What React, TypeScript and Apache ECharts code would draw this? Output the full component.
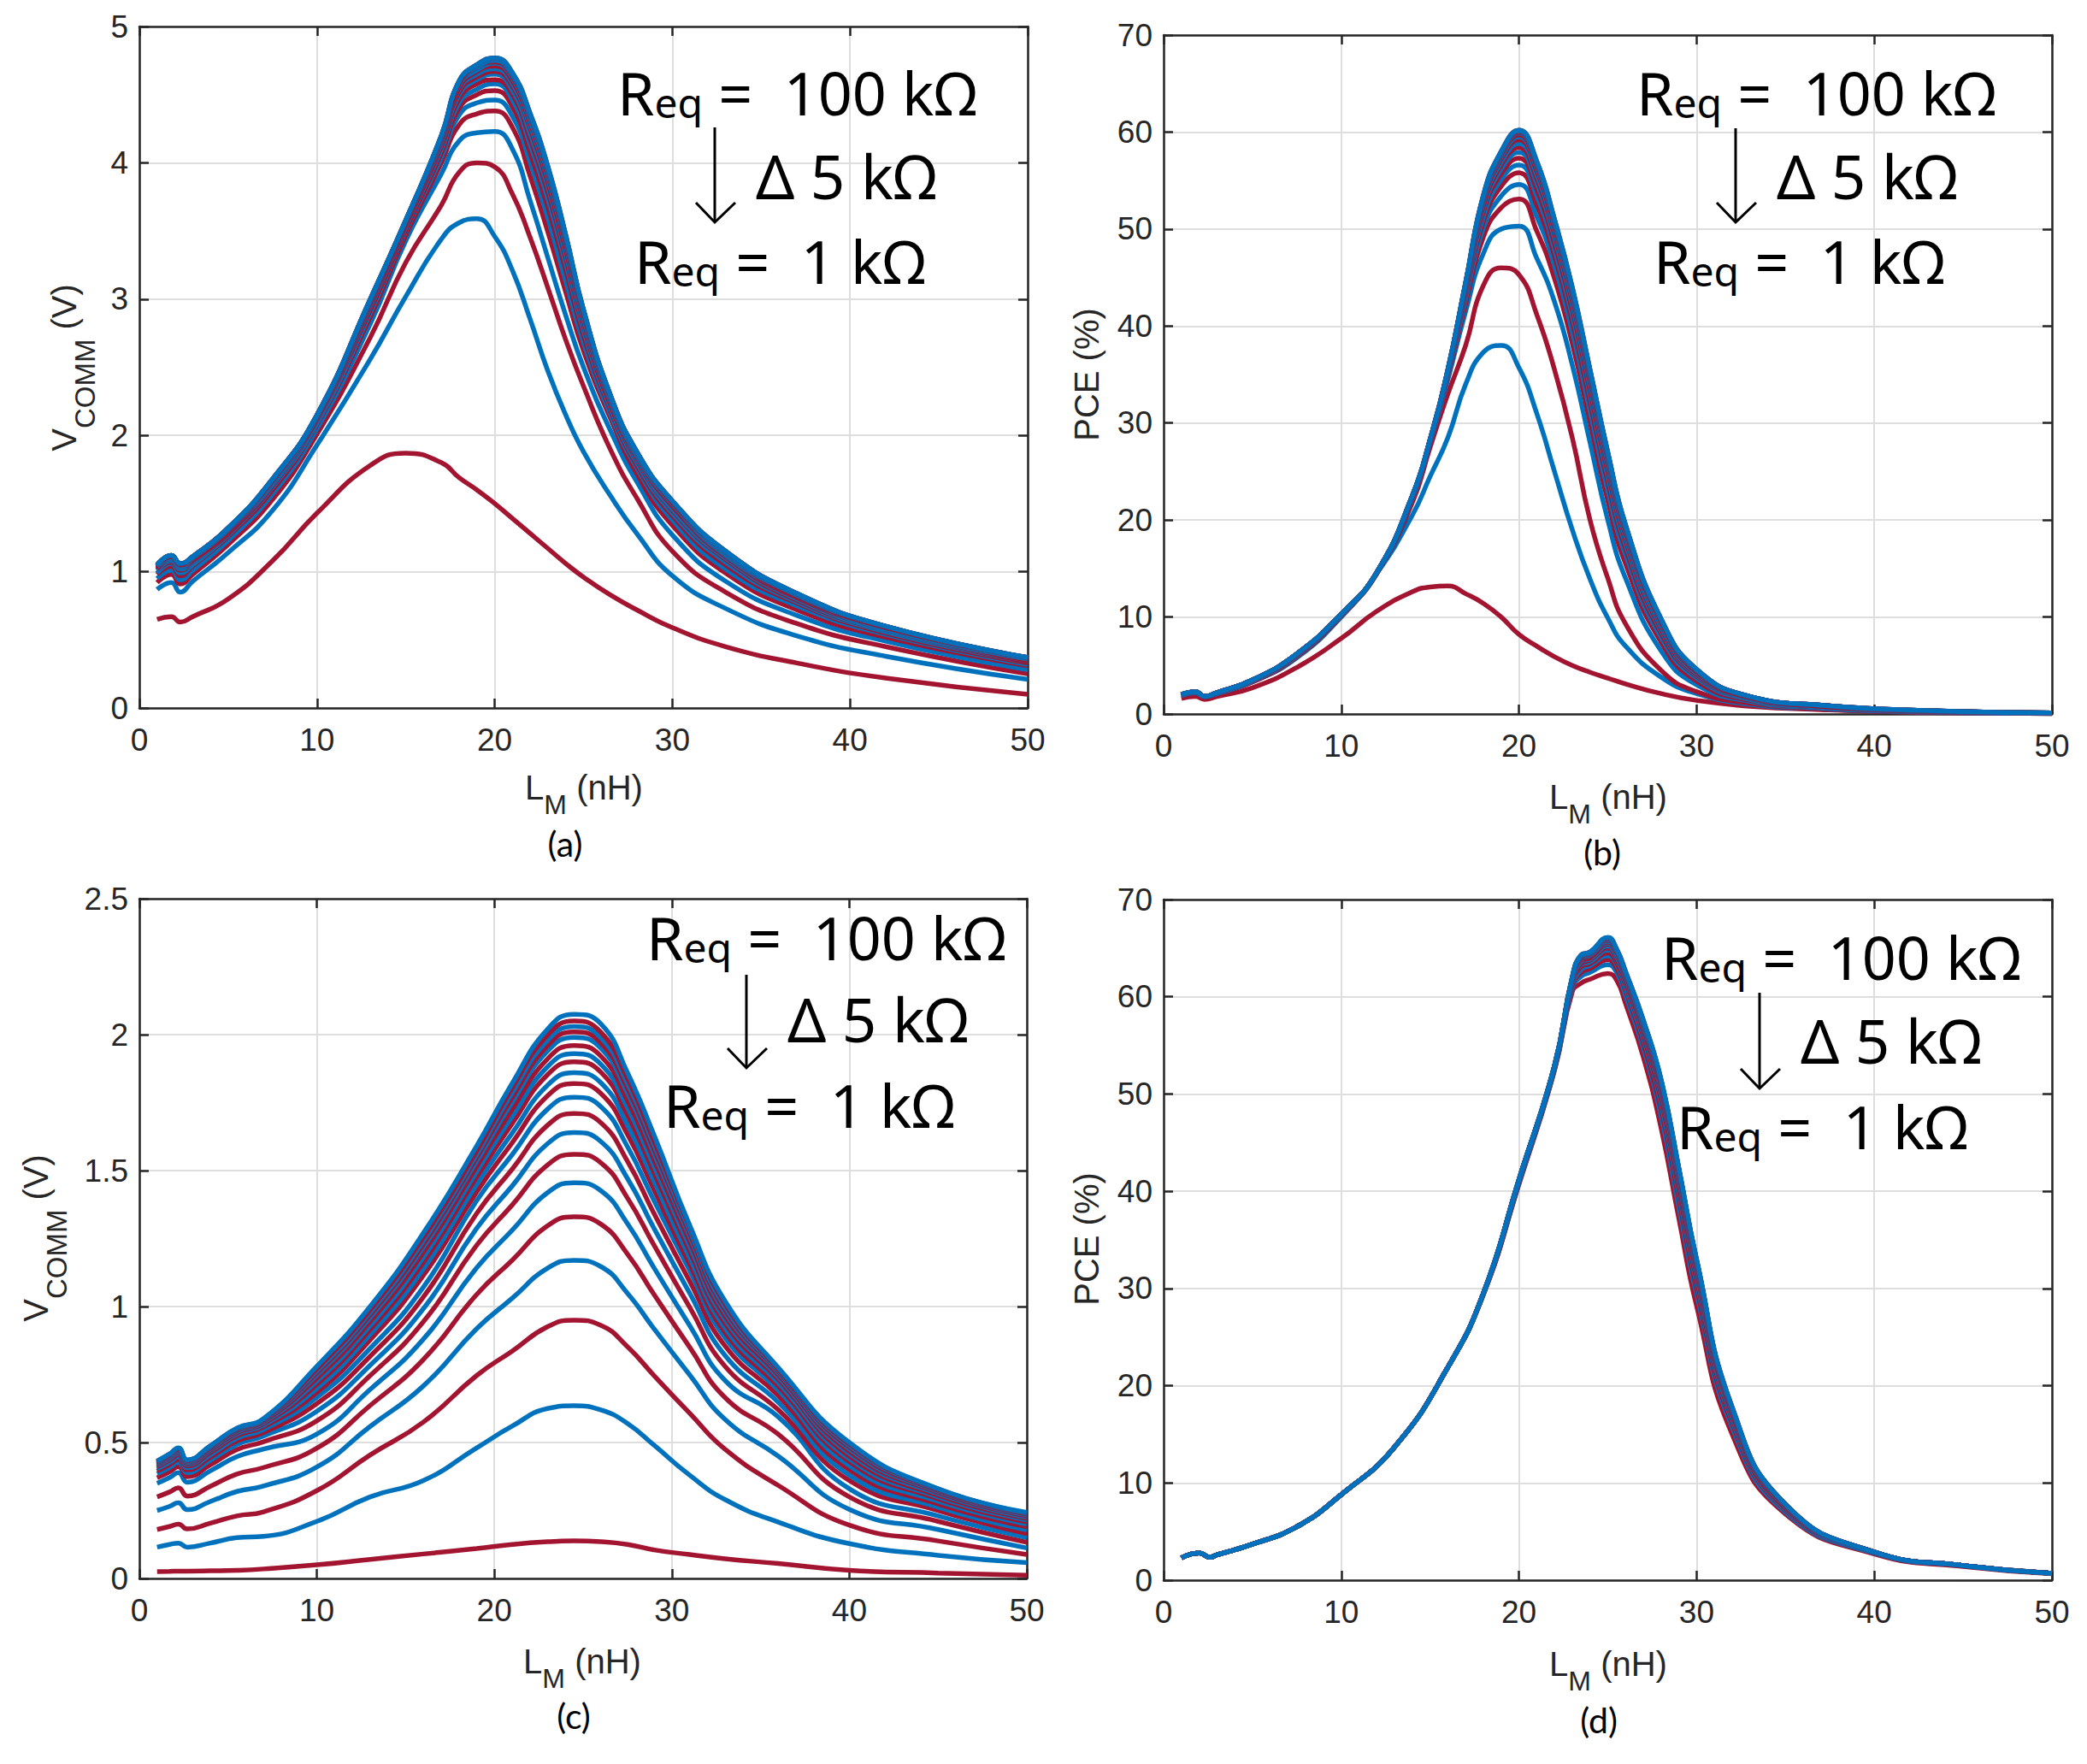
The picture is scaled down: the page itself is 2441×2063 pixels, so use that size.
import React, { useEffect, useRef } from "react";
import * as echarts from "echarts";

// ---------------- data ----------------
const REQ_KOHM = [1, 10, 15, 20, 25, 30, 35, 40, 45, 50, 55, 60, 65, 70, 75, 80, 85, 90, 95, 100];

const X_A = [1, 1.8, 2.3, 3, 5, 7.5, 10, 13, 15, 17, 18, 19, 20, 21, 22, 23, 24, 25, 26.5, 28, 30, 33, 37, 42, 50];
const VCOMM_A = [
  [0.65,0.67,0.63,0.67,0.80,1.08,1.43,1.78,1.87,1.80,1.69,1.60,1.50,1.39,1.28,1.17,1.06,0.96,0.83,0.72,0.59,0.45,0.33,0.22,0.10],
  [0.87,0.92,0.85,0.93,1.14,1.45,1.93,2.56,3.02,3.44,3.56,3.59,3.46,3.21,2.85,2.47,2.15,1.88,1.56,1.28,0.97,0.73,0.53,0.38,0.21],
  [0.92,0.98,0.91,0.98,1.20,1.53,2.01,2.72,3.27,3.69,3.93,4.00,3.97,3.77,3.45,3.08,2.70,2.36,1.90,1.54,1.15,0.85,0.62,0.45,0.25],
  [0.95,1.01,0.94,1.01,1.23,1.57,2.05,2.82,3.43,3.92,4.16,4.22,4.23,4.10,3.72,3.30,2.88,2.50,2.04,1.66,1.27,0.93,0.68,0.49,0.28],
  [0.98,1.04,0.97,1.04,1.26,1.60,2.08,2.87,3.47,4.00,4.28,4.36,4.38,4.26,3.90,3.49,3.05,2.62,2.13,1.72,1.34,0.99,0.72,0.52,0.31],
  [0.99,1.06,0.99,1.05,1.27,1.62,2.09,2.90,3.50,4.04,4.35,4.44,4.46,4.34,4.00,3.59,3.13,2.68,2.16,1.76,1.38,1.02,0.75,0.54,0.32],
  [1.01,1.07,1.01,1.07,1.28,1.63,2.11,2.92,3.51,4.07,4.40,4.50,4.53,4.41,4.07,3.67,3.21,2.73,2.19,1.78,1.41,1.05,0.77,0.55,0.33],
  [1.01,1.08,1.02,1.07,1.29,1.64,2.11,2.94,3.53,4.10,4.44,4.54,4.58,4.46,4.13,3.73,3.26,2.77,2.21,1.80,1.43,1.07,0.78,0.56,0.34],
  [1.02,1.09,1.03,1.08,1.29,1.65,2.12,2.95,3.54,4.12,4.47,4.58,4.61,4.50,4.17,3.78,3.30,2.80,2.23,1.82,1.45,1.09,0.79,0.57,0.34],
  [1.03,1.09,1.03,1.09,1.30,1.65,2.13,2.96,3.55,4.14,4.50,4.61,4.65,4.53,4.21,3.82,3.33,2.82,2.25,1.83,1.46,1.10,0.80,0.57,0.35],
  [1.03,1.10,1.04,1.09,1.30,1.66,2.13,2.97,3.55,4.15,4.52,4.63,4.67,4.56,4.25,3.85,3.36,2.84,2.26,1.84,1.48,1.11,0.81,0.58,0.35],
  [1.04,1.10,1.04,1.10,1.31,1.66,2.14,2.98,3.56,4.16,4.54,4.65,4.69,4.58,4.27,3.88,3.39,2.86,2.27,1.85,1.49,1.12,0.82,0.58,0.36],
  [1.04,1.11,1.05,1.10,1.31,1.67,2.14,2.98,3.56,4.17,4.55,4.67,4.71,4.60,4.29,3.90,3.41,2.88,2.28,1.86,1.49,1.13,0.82,0.59,0.36],
  [1.04,1.11,1.05,1.10,1.31,1.67,2.14,2.99,3.57,4.18,4.57,4.68,4.73,4.62,4.31,3.92,3.43,2.89,2.28,1.86,1.50,1.13,0.83,0.59,0.36],
  [1.05,1.11,1.05,1.11,1.32,1.67,2.15,2.99,3.57,4.19,4.58,4.70,4.74,4.63,4.33,3.94,3.44,2.90,2.29,1.87,1.51,1.14,0.83,0.59,0.37],
  [1.05,1.12,1.06,1.11,1.32,1.68,2.15,2.99,3.58,4.19,4.59,4.70,4.75,4.64,4.34,3.95,3.45,2.91,2.29,1.87,1.51,1.14,0.83,0.60,0.37],
  [1.05,1.12,1.06,1.11,1.32,1.68,2.15,3.00,3.58,4.19,4.59,4.71,4.76,4.65,4.35,3.96,3.46,2.91,2.30,1.88,1.51,1.15,0.84,0.60,0.37],
  [1.05,1.12,1.06,1.11,1.32,1.68,2.15,3.00,3.58,4.20,4.60,4.71,4.76,4.65,4.35,3.96,3.46,2.92,2.30,1.88,1.52,1.15,0.84,0.60,0.37],
  [1.05,1.12,1.06,1.11,1.32,1.68,2.15,3.00,3.58,4.20,4.60,4.72,4.77,4.66,4.36,3.97,3.47,2.92,2.30,1.88,1.52,1.15,0.84,0.60,0.37],
  [1.05,1.12,1.06,1.11,1.32,1.68,2.15,3.00,3.58,4.20,4.60,4.72,4.77,4.66,4.36,3.97,3.47,2.92,2.30,1.88,1.52,1.15,0.84,0.60,0.37],
];

const X_B = [1, 1.8, 2.3, 3, 5, 7.5, 10, 12, 14, 15, 16, 17, 18, 19, 20, 21, 22, 23, 24, 25, 26, 28, 30, 33, 37, 42, 50];
const PCE_B = [
  [1.6,1.8,1.5,1.8,2.7,4.8,7.8,10.6,12.6,13.1,13.2,12.4,11.4,10.0,8.2,7.0,5.9,5.0,4.3,3.7,3.1,2.1,1.4,0.8,0.45,0.2,0.05],
  [1.9,2.2,1.8,2.1,3.3,5.8,10.0,14.5,20.5,24.5,28.5,34.0,37.3,38.0,35.7,31.0,25.0,19.0,13.9,9.9,7.0,3.8,2.1,1.0,0.5,0.2,0.05],
  [1.9,2.2,1.8,2.1,3.3,5.9,10.1,14.5,21.8,27.5,33.0,38.0,44.2,46.0,45.3,41.2,35.5,28.5,20.0,14.0,9.3,4.5,2.3,1.1,0.5,0.2,0.05],
  [1.9,2.2,1.8,2.1,3.4,6.0,10.2,14.5,22.2,28.0,34.5,41.5,47.5,50.0,50.3,47.0,42.5,36.0,28.0,20.0,14.0,6.5,3.0,1.3,0.6,0.25,0.07],
  [1.9,2.2,1.8,2.1,3.4,6.1,10.2,14.5,22.3,28.1,34.8,42.3,49.2,52.2,53.1,49.8,44.9,38.2,30.1,22.0,15.5,7.4,3.4,1.4,0.7,0.29,0.08],
  [1.9,2.2,1.8,2.1,3.4,6.1,10.2,14.5,22.3,28.1,34.9,42.8,50.1,53.4,54.6,51.3,46.2,39.4,31.2,23.0,16.4,7.9,3.7,1.5,0.7,0.31,0.08],
  [2.0,2.3,1.8,2.2,3.5,6.1,10.3,14.6,22.4,28.2,35.1,43.2,50.8,54.4,55.8,52.5,47.2,40.4,32.1,23.9,17.0,8.3,3.9,1.6,0.8,0.33,0.09],
  [2.0,2.3,1.8,2.2,3.5,6.1,10.3,14.6,22.4,28.2,35.1,43.4,51.3,55.1,56.6,53.4,47.9,41.1,32.8,24.5,17.5,8.6,4.0,1.6,0.8,0.35,0.09],
  [2.0,2.3,1.8,2.2,3.5,6.1,10.3,14.6,22.4,28.2,35.2,43.6,51.8,55.7,57.3,54.1,48.5,41.7,33.3,25.0,17.9,8.8,4.1,1.7,0.8,0.36,0.09],
  [2.0,2.3,1.8,2.2,3.5,6.2,10.3,14.6,22.4,28.2,35.3,43.8,52.1,56.2,57.9,54.7,49.1,42.2,33.8,25.4,18.2,9.0,4.2,1.7,0.8,0.37,0.09],
  [2.0,2.3,1.8,2.2,3.5,6.2,10.3,14.6,22.4,28.2,35.3,44.0,52.4,56.6,58.4,55.2,49.5,42.6,34.2,25.7,18.5,9.2,4.3,1.7,0.8,0.37,0.1],
  [2.0,2.3,1.8,2.2,3.5,6.2,10.3,14.6,22.5,28.3,35.4,44.1,52.7,56.9,58.8,55.6,49.8,42.9,34.5,26.0,18.7,9.3,4.4,1.7,0.9,0.38,0.1],
  [2.0,2.3,1.8,2.2,3.5,6.2,10.3,14.6,22.5,28.3,35.4,44.2,52.9,57.2,59.2,56.0,50.1,43.2,34.7,26.3,18.9,9.5,4.4,1.7,0.9,0.38,0.1],
  [2.0,2.3,1.8,2.2,3.5,6.2,10.3,14.6,22.5,28.3,35.4,44.3,53.1,57.4,59.5,56.3,50.4,43.4,34.9,26.5,19.1,9.6,4.5,1.8,0.9,0.39,0.1],
  [2.0,2.3,1.8,2.2,3.5,6.2,10.3,14.6,22.5,28.3,35.5,44.4,53.2,57.6,59.7,56.5,50.6,43.6,35.1,26.7,19.2,9.6,4.5,1.8,0.9,0.39,0.1],
  [2.0,2.3,1.8,2.2,3.5,6.2,10.3,14.6,22.5,28.3,35.5,44.4,53.3,57.7,59.9,56.7,50.7,43.7,35.2,26.8,19.3,9.7,4.5,1.8,0.9,0.39,0.1],
  [2.0,2.3,1.8,2.2,3.5,6.2,10.3,14.6,22.5,28.3,35.5,44.4,53.4,57.8,60.0,56.8,50.8,43.8,35.3,26.9,19.4,9.7,4.6,1.8,0.9,0.4,0.1],
  [2.0,2.3,1.8,2.2,3.5,6.2,10.3,14.6,22.5,28.3,35.5,44.5,53.4,57.9,60.1,56.9,50.9,43.9,35.4,26.9,19.4,9.8,4.6,1.8,0.9,0.4,0.1],
  [2.0,2.3,1.8,2.2,3.5,6.2,10.3,14.6,22.5,28.3,35.5,44.5,53.5,58.0,60.2,57.0,51.0,44.0,35.5,27.0,19.5,9.8,4.6,1.8,0.9,0.4,0.1],
  [2.0,2.3,1.8,2.2,3.5,6.2,10.3,14.6,22.5,28.3,35.5,44.5,53.5,58.0,60.2,57.0,51.0,44.0,35.5,27.0,19.5,9.8,4.6,1.8,0.9,0.4,0.1],
];

const X_C = [1, 1.7, 2.2, 2.7, 4, 5.5, 7, 10, 13, 16, 19, 21, 23, 24.5, 26, 27.5, 29, 31, 33, 36, 40, 45, 50];
const VCOMM_C = [
  [0.025,0.026,0.027,0.027,0.028,0.03,0.035,0.05,0.07,0.09,0.11,0.125,0.135,0.138,0.135,0.125,0.105,0.088,0.072,0.055,0.03,0.02,0.012],
  [0.115,0.125,0.13,0.115,0.13,0.15,0.155,0.21,0.30,0.36,0.48,0.56,0.625,0.635,0.62,0.57,0.49,0.38,0.29,0.207,0.128,0.085,0.058],
  [0.18,0.191,0.20,0.182,0.203,0.23,0.245,0.323,0.454,0.575,0.746,0.836,0.926,0.95,0.931,0.852,0.746,0.608,0.475,0.342,0.196,0.138,0.088],
  [0.25,0.265,0.278,0.253,0.283,0.32,0.34,0.41,0.559,0.708,0.918,1.03,1.141,1.17,1.147,1.049,0.918,0.749,0.585,0.45,0.254,0.18,0.112],
  [0.30,0.318,0.333,0.303,0.339,0.384,0.408,0.479,0.636,0.805,1.044,1.17,1.297,1.33,1.303,1.193,1.044,0.851,0.665,0.53,0.30,0.21,0.133],
  [0.35,0.371,0.389,0.354,0.396,0.448,0.476,0.531,0.695,0.88,1.142,1.28,1.419,1.455,1.426,1.305,1.142,0.931,0.728,0.594,0.33,0.23,0.15],
  [0.37,0.392,0.411,0.374,0.418,0.474,0.503,0.58,0.746,0.944,1.225,1.373,1.521,1.56,1.529,1.399,1.225,0.998,0.78,0.62,0.36,0.25,0.165],
  [0.385,0.408,0.427,0.389,0.435,0.493,0.524,0.615,0.784,0.992,1.287,1.443,1.599,1.64,1.607,1.471,1.287,1.05,0.82,0.648,0.38,0.262,0.178],
  [0.395,0.419,0.438,0.399,0.446,0.506,0.537,0.643,0.817,1.035,1.342,1.505,1.667,1.71,1.676,1.534,1.342,1.094,0.855,0.672,0.40,0.274,0.19],
  [0.403,0.427,0.447,0.407,0.455,0.516,0.548,0.666,0.846,1.071,1.389,1.558,1.726,1.77,1.735,1.588,1.389,1.133,0.885,0.692,0.415,0.284,0.20],
  [0.41,0.435,0.455,0.414,0.463,0.525,0.558,0.684,0.877,1.114,1.421,1.602,1.775,1.82,1.784,1.633,1.429,1.156,0.905,0.707,0.43,0.293,0.208],
  [0.415,0.44,0.461,0.419,0.469,0.531,0.564,0.699,0.897,1.138,1.449,1.637,1.814,1.86,1.823,1.668,1.46,1.18,0.921,0.72,0.44,0.30,0.215],
  [0.419,0.444,0.465,0.423,0.473,0.536,0.57,0.714,0.916,1.163,1.476,1.672,1.853,1.90,1.862,1.704,1.492,1.204,0.938,0.732,0.45,0.306,0.221],
  [0.422,0.447,0.468,0.426,0.477,0.54,0.574,0.726,0.93,1.181,1.496,1.698,1.882,1.93,1.891,1.731,1.515,1.222,0.952,0.741,0.46,0.312,0.226],
  [0.425,0.451,0.472,0.429,0.48,0.544,0.578,0.737,0.945,1.20,1.515,1.725,1.911,1.96,1.921,1.758,1.539,1.24,0.965,0.749,0.468,0.317,0.23],
  [0.427,0.453,0.474,0.431,0.483,0.547,0.581,0.748,0.959,1.218,1.534,1.751,1.94,1.99,1.95,1.785,1.562,1.258,0.978,0.757,0.476,0.321,0.234],
  [0.429,0.455,0.476,0.433,0.485,0.549,0.583,0.756,0.969,1.23,1.548,1.769,1.96,2.01,1.97,1.803,1.578,1.27,0.988,0.762,0.483,0.324,0.237],
  [0.43,0.456,0.477,0.434,0.486,0.55,0.585,0.763,0.978,1.242,1.559,1.786,1.979,2.03,1.989,1.821,1.594,1.282,0.998,0.766,0.489,0.327,0.239],
  [0.431,0.457,0.478,0.435,0.487,0.552,0.586,0.771,0.988,1.255,1.572,1.804,1.999,2.05,2.009,1.839,1.609,1.294,1.01,0.77,0.495,0.329,0.241],
  [0.432,0.458,0.48,0.436,0.488,0.553,0.588,0.78,1.0,1.27,1.59,1.82,2.02,2.075,2.04,1.86,1.63,1.30,1.02,0.775,0.50,0.33,0.243],
];

const X_D = [1, 2, 2.6, 3, 5, 7.5, 10, 13, 16, 18, 20, 22, 23, 23.5, 24, 25, 25.5, 26, 27, 28, 29, 30, 32, 35, 40, 45, 50];
const PCE_D = [
  [2.3,2.8,2.35,2.6,3.7,5.5,8.8,13.7,21.9,29.4,40.7,52.4,60.5,61.4,61.8,62.4,61.7,59.3,53.8,46.5,37.2,28.2,15.0,6.8,2.7,1.4,0.65],
  [2.3,2.8,2.35,2.6,3.7,5.5,8.8,13.7,21.9,29.4,40.8,52.5,60.9,62.1,62.5,63.3,62.5,60.1,54.7,47.7,38.4,29.4,15.7,7.0,2.8,1.5,0.7],
  [2.3,2.8,2.35,2.6,3.7,5.5,8.8,13.7,21.9,29.4,40.9,52.6,61.1,62.5,62.9,63.8,62.9,60.6,55.2,48.4,39.2,30.0,16.1,7.2,2.8,1.5,0.7],
  [2.3,2.8,2.35,2.6,3.7,5.5,8.8,13.7,21.9,29.5,40.9,52.6,61.2,62.8,63.2,64.2,63.3,60.9,55.7,49.0,39.8,30.6,16.4,7.3,2.8,1.5,0.7],
  [2.3,2.8,2.35,2.6,3.7,5.5,8.8,13.7,21.9,29.5,41.0,52.7,61.4,63.1,63.4,64.5,63.5,61.2,56.0,49.4,40.2,30.9,16.6,7.4,2.8,1.5,0.7],
  [2.3,2.8,2.35,2.6,3.7,5.5,8.8,13.7,21.9,29.5,41.0,52.7,61.5,63.3,63.6,64.8,63.8,61.4,56.3,49.8,40.6,31.3,16.8,7.5,2.8,1.5,0.7],
  [2.3,2.8,2.35,2.6,3.7,5.5,8.8,13.7,21.9,29.5,41.1,52.8,61.6,63.4,63.8,65.0,63.9,61.6,56.5,50.0,40.8,31.6,17.0,7.5,2.9,1.5,0.7],
  [2.3,2.8,2.35,2.6,3.7,5.5,8.8,13.7,21.9,29.5,41.1,52.8,61.6,63.6,63.9,65.2,64.1,61.8,56.7,50.3,41.2,31.9,17.1,7.6,2.9,1.5,0.7],
  [2.3,2.8,2.35,2.6,3.7,5.5,8.8,13.7,21.9,29.5,41.1,52.8,61.7,63.7,64.0,65.4,64.3,61.9,56.8,50.5,41.4,32.0,17.2,7.6,2.9,1.5,0.7],
  [2.3,2.8,2.35,2.6,3.7,5.5,8.8,13.7,21.9,29.5,41.1,52.8,61.8,63.8,64.2,65.5,64.4,62.1,57.0,50.7,41.6,32.2,17.4,7.6,2.9,1.5,0.7],
  [2.3,2.8,2.35,2.6,3.7,5.5,8.8,13.7,21.9,29.5,41.1,52.8,61.8,63.9,64.2,65.6,64.5,62.2,57.1,50.8,41.7,32.4,17.4,7.7,2.9,1.5,0.7],
  [2.3,2.8,2.35,2.6,3.7,5.5,8.8,13.7,21.9,29.5,41.1,52.8,61.8,64.0,64.3,65.7,64.5,62.2,57.2,51.0,41.8,32.5,17.5,7.7,2.9,1.5,0.7],
  [2.3,2.8,2.35,2.6,3.7,5.5,8.8,13.7,21.9,29.5,41.2,52.9,61.9,64.1,64.4,65.8,64.6,62.3,57.3,51.1,42.0,32.6,17.6,7.7,2.9,1.5,0.7],
  [2.3,2.8,2.35,2.6,3.7,5.5,8.8,13.7,21.9,29.5,41.2,52.9,61.9,64.1,64.4,65.85,64.7,62.4,57.3,51.2,42.1,32.7,17.6,7.7,2.9,1.5,0.7],
  [2.3,2.8,2.35,2.6,3.7,5.5,8.8,13.7,21.9,29.5,41.2,52.9,61.9,64.1,64.45,65.9,64.7,62.4,57.4,51.2,42.1,32.7,17.6,7.7,2.9,1.5,0.7],
  [2.3,2.8,2.35,2.6,3.7,5.5,8.8,13.7,21.9,29.5,41.2,52.9,62.0,64.2,64.5,65.95,64.8,62.5,57.4,51.3,42.2,32.8,17.7,7.8,2.9,1.5,0.7],
  [2.3,2.8,2.35,2.6,3.7,5.5,8.8,13.7,21.9,29.5,41.2,52.9,62.0,64.2,64.5,66.0,64.8,62.5,57.5,51.4,42.3,32.9,17.7,7.8,2.9,1.5,0.7],
  [2.3,2.8,2.35,2.6,3.7,5.5,8.8,13.7,21.9,29.5,41.2,52.9,62.0,64.2,64.5,66.03,64.8,62.5,57.5,51.4,42.3,32.9,17.7,7.8,2.9,1.5,0.7],
  [2.3,2.8,2.35,2.6,3.7,5.5,8.8,13.7,21.9,29.5,41.2,52.9,62.0,64.3,64.6,66.06,64.9,62.6,57.6,51.4,42.3,32.9,17.8,7.8,2.9,1.5,0.7],
  [2.3,2.8,2.35,2.6,3.7,5.5,8.8,13.7,21.9,29.5,41.2,52.9,62.0,64.3,64.6,66.1,64.9,62.6,57.6,51.5,42.4,33.0,17.8,7.8,2.9,1.5,0.7],
];

const X_RANGE = [0, 50, 10];
const Y_MAX = [5, 70, 2.5, 70];
const Y_STEP = [1, 10, 0.5, 10];
const CAPTIONS = ["(a)", "(b)", "(c)", "(d)"];

// ---------------- layout & style ----------------
const W = 2441;
const H = 2063;
const BLUE = "#0072BD";
const RED = "#A2142F";
const AXIS = "#262626";
const GRIDC = "#dedede";
const TICK_FONT = "'Liberation Sans', Arial, Helvetica, sans-serif";
const NOTE_FONT = "'Noto Sans', 'Open Sans', sans-serif";
const CAP_FONT = "Lato, 'Noto Sans', sans-serif";

const GRIDS = [
  { left: 163, top: 31, width: 1039, height: 797 },
  { left: 1361, top: 41, width: 1039, height: 794 },
  { left: 163, top: 1051, width: 1038, height: 795 },
  { left: 1361, top: 1052, width: 1039, height: 796 },
];

const PANELS = [
  { x: X_A, ys: VCOMM_A, ylab: "vcomm" },
  { x: X_B, ys: PCE_B, ylab: "pce" },
  { x: X_C, ys: VCOMM_C, ylab: "vcomm" },
  { x: X_D, ys: PCE_D, ylab: "pce" },
];

// label placement (page pixels)
const XLAB = [[683, 935], [1881, 946], [681, 1957], [1881, 1960]];
const YLAB = [[55, 430], [1251, 438], [22, 1448], [1251, 1449]];
const CAP = [[661, 986], [1874, 996], [671, 2006], [1870, 2011]];
const NOTE = [
  { r1: [722, 143], d: [884, 241], r2: [742, 340], ar: [836, 149, 260] },
  { r1: [1914, 143], d: [2078, 241], r2: [1934, 340], ar: [2030, 150, 260] },
  { r1: [756, 1131], d: [921, 1227], r2: [776, 1327], ar: [873, 1140, 1249] },
  { r1: [1943, 1154], d: [2106, 1252], r2: [1961, 1352], ar: [2058, 1161, 1273] },
];

function noteRich() {
  const base = { fontFamily: NOTE_FONT, fill: "#000", color: "#000", verticalAlign: "bottom" };
  return {
    r: { ...base, fontSize: 70 },
    e: { ...base, fontSize: 48 },
    t: { ...base, fontSize: 70 },
    d: { ...base, fontSize: 71 },
  };
}

function textEl(x: number, y: number, style: any, extra: any = {}) {
  return {
    type: "text",
    x,
    y,
    z: 100,
    silent: true,
    ...extra,
    style: {
      fill: "#000",
      ...style,
      align: style.textAlign,
      verticalAlign: style.textVerticalAlign,
    },
  };
}

function buildOption() {
  const grid: any[] = [];
  const xAxis: any[] = [];
  const yAxis: any[] = [];
  const series: any[] = [];
  const elements: any[] = [];

  const lineStyle = { color: AXIS, width: 2.5 };
  const tick = { show: true, inside: true, length: 11, lineStyle };

  PANELS.forEach((p, i) => {
    grid.push({ ...GRIDS[i], containLabel: false });
    xAxis.push({
      gridIndex: i, type: "value", min: X_RANGE[0], max: X_RANGE[1], interval: X_RANGE[2], position: "bottom",
      axisLine: { show: true, onZero: false, lineStyle },
      axisTick: tick,
      axisLabel: { show: true, margin: 19, fontSize: 37, fontFamily: TICK_FONT, color: AXIS },
      splitLine: { show: true, lineStyle: { color: GRIDC, width: 2 } },
    });
    xAxis.push({
      gridIndex: i, type: "value", min: X_RANGE[0], max: X_RANGE[1], interval: X_RANGE[2], position: "top",
      axisLine: { show: true, onZero: false, lineStyle },
      axisTick: tick, axisLabel: { show: false }, splitLine: { show: false },
    });
    yAxis.push({
      gridIndex: i, type: "value", min: 0, max: Y_MAX[i], interval: Y_STEP[i], position: "left",
      axisLine: { show: true, onZero: false, lineStyle },
      axisTick: tick,
      axisLabel: { show: true, margin: 13, fontSize: 37, fontFamily: TICK_FONT, color: AXIS },
      splitLine: { show: true, lineStyle: { color: GRIDC, width: 2 } },
    });
    yAxis.push({
      gridIndex: i, type: "value", min: 0, max: Y_MAX[i], interval: Y_STEP[i], position: "right",
      axisLine: { show: true, onZero: false, lineStyle },
      axisTick: tick, axisLabel: { show: false }, splitLine: { show: false },
    });

    p.ys.forEach((ys, k) => {
      const color = k % 2 === 0 ? RED : BLUE;
      series.push({
        type: "line",
        name: `Req = ${REQ_KOHM[k]} kΩ`,
        xAxisIndex: 2 * i,
        yAxisIndex: 2 * i,
        data: p.x.map((xv, j) => [xv, ys[j]]),
        showSymbol: false,
        symbol: "none",
        smooth: 0.5,
        silent: true,
        z: 3,
        lineStyle: { color, width: 5.5 },
        itemStyle: { color },
      });
    });

    // x-axis label  L_M (nH)
    elements.push(
      textEl(XLAB[i][0], XLAB[i][1] - 34, {
        text: "{m|L}{s|M}{m| (nH)}",
        textAlign: "center",
        textVerticalAlign: "top",
        rich: {
          m: { fontSize: 40, fontFamily: TICK_FONT, fill: AXIS, color: AXIS, verticalAlign: "top" },
          s: { fontSize: 32, fontFamily: TICK_FONT, fill: AXIS, color: AXIS, verticalAlign: "top", padding: [24, 0, 0, 0] },
        },
      })
    );

    // y-axis label
    const yStyle: any = p.ylab === "vcomm"
      ? {
          text: "{m|V}{s|COMM}{m| (V)}",
          rich: {
            m: { fontSize: 40, fontFamily: TICK_FONT, fill: AXIS, color: AXIS, verticalAlign: "top" },
            s: { fontSize: 33, fontFamily: TICK_FONT, fill: AXIS, color: AXIS, verticalAlign: "top", padding: [28, 0, 0, 0] },
          },
        }
      : { text: "PCE (%)", fontSize: 40, fontFamily: TICK_FONT, fill: AXIS };
    elements.push(
      textEl(YLAB[i][0], YLAB[i][1], { ...yStyle, textAlign: "center", textVerticalAlign: "top" }, { rotation: Math.PI / 2 })
    );

    // caption
    elements.push(
      textEl(CAP[i][0], CAP[i][1], {
        text: CAPTIONS[i], fontSize: 41, fontFamily: CAP_FONT, fill: "#000",
        textAlign: "center", textVerticalAlign: "middle",
      })
    );

    // annotation
    const n = NOTE[i];
    elements.push(
      textEl(n.r1[0], n.r1[1], {
        text: "{r|R}{e|eq}{t| =  100 kΩ}", rich: noteRich(),
        textAlign: "left", textVerticalAlign: "bottom",
      })
    );
    elements.push(
      textEl(n.d[0], n.d[1], {
        text: "{d|Δ 5 kΩ}", rich: noteRich(),
        textAlign: "left", textVerticalAlign: "bottom",
      })
    );
    elements.push(
      textEl(n.r2[0], n.r2[1], {
        text: "{r|R}{e|eq}{t| =  1 kΩ}", rich: noteRich(),
        textAlign: "left", textVerticalAlign: "bottom",
      })
    );
    const [ax, at, ab] = n.ar;
    elements.push({
      type: "line", z: 100, silent: true,
      shape: { x1: ax, y1: at, x2: ax, y2: ab },
      style: { stroke: "#000", lineWidth: 3 },
    });
    elements.push({
      type: "polyline", z: 100, silent: true,
      shape: { points: [[ax - 22, ab - 23], [ax, ab], [ax + 24, ab - 23]] },
      style: { stroke: "#000", lineWidth: 3, fill: null },
    });
  });

  return {
    animation: false,
    backgroundColor: "#ffffff",
    grid,
    xAxis,
    yAxis,
    series,
    graphic: { elements },
  };
}

export default function App() {
  const ref = useRef<HTMLDivElement | null>(null);
  useEffect(() => {
    if (!ref.current) return;
    const chart = echarts.init(ref.current, undefined, { renderer: "svg", width: W, height: H });
    chart.setOption(buildOption() as any);
    return () => chart.dispose();
  }, []);
  return (
    <div
      ref={ref}
      style={{ position: "absolute", left: 0, top: 0, width: W, height: H, background: "#fff" }}
    />
  );
}
